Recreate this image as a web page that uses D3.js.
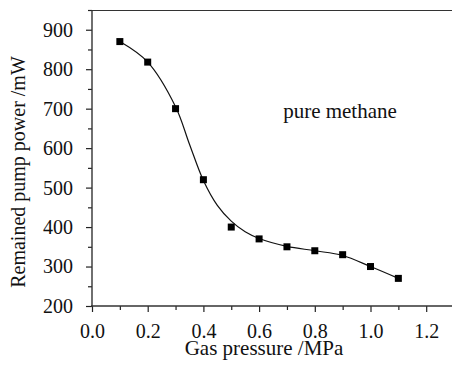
<!DOCTYPE html>
<html>
<head>
<meta charset="utf-8">
<script src="https://cdn.jsdelivr.net/npm/d3@7"></script>
<style>
  body { margin: 0; background: #fff; }
  svg text { font-family: "Liberation Serif", "DejaVu Serif", serif; fill: #111; }
</style>
</head>
<body>
<svg id="chart" width="452" height="370"></svg>
<script>
// measured points
const pressure = [0.1, 0.2, 0.3, 0.4, 0.5, 0.6, 0.7, 0.8, 0.9, 1.0, 1.1];
const power = [870, 818, 700, 520, 400, 370, 350, 340, 330, 300, 270];

// fitted curve
const fitPressure = [0.1, 0.2, 0.3, 0.35, 0.4, 0.45, 0.5, 0.55, 0.6, 0.7, 0.8, 0.9, 1.0, 1.1];
const fitPower = [870, 818, 705, 610, 518, 455, 415, 388, 371, 351, 340, 328, 300, 270];

const xTicks = [0.0, 0.2, 0.4, 0.6, 0.8, 1.0, 1.2];
const yTicks = [200, 300, 400, 500, 600, 700, 800, 900];

const marginLeft = 92, marginTop = 10, plotRight = 452, plotBottom = 306;
const serif = '"Liberation Serif", "DejaVu Serif", serif';

const svg = d3.select("#chart");

const x = d3.scaleLinear()
    .domain([0, 1.2])
    .range([marginLeft, marginLeft + 6 * 55.7]);

const y = d3.scaleLinear()
    .domain([200, 950])
    .range([plotBottom, marginTop]);

// top border
svg.append("line")
    .attr("x1", marginLeft).attr("x2", plotRight)
    .attr("y1", marginTop + 0.5).attr("y2", marginTop + 0.5)
    .attr("stroke", "#333").attr("stroke-width", 1.2);

// minor ticks
const xMinor = d3.range(0.1, 1.3, 0.2);
svg.append("g")
    .attr("transform", `translate(0,${plotBottom})`)
    .call(d3.axisBottom(x).tickValues(xMinor).tickSize(4).tickFormat(""))
    .call(g => g.select(".domain").remove())
    .selectAll("line").attr("stroke", "#222").attr("stroke-width", 1.2);

const yMinor = d3.range(250, 951, 100);
svg.append("g")
    .attr("transform", `translate(${marginLeft},0)`)
    .call(d3.axisLeft(y).tickValues(yMinor).tickSize(4).tickFormat(""))
    .call(g => g.select(".domain").remove())
    .selectAll("line").attr("stroke", "#222").attr("stroke-width", 1.2);

const xAxis = svg.append("g")
    .attr("transform", `translate(0,${plotBottom})`)
    .attr("font-family", serif)
    .attr("font-size", 20)
    .call(d3.axisBottom(x).tickValues(xTicks).tickSize(6).tickPadding(12)
        .tickFormat(d3.format(".1f")));
xAxis.attr("font-family", serif).attr("font-size", 20);
xAxis.select(".domain").remove();
xAxis.selectAll("line").attr("stroke", "#222").attr("stroke-width", 1.2);

svg.append("line")
    .attr("x1", marginLeft - 1).attr("x2", plotRight)
    .attr("y1", plotBottom).attr("y2", plotBottom)
    .attr("stroke", "#333").attr("stroke-width", 1.4);

const yAxis = svg.append("g")
    .attr("transform", `translate(${marginLeft},0)`)
    .call(d3.axisLeft(y).tickValues(yTicks).tickSize(6).tickPadding(13));
yAxis.attr("font-family", serif).attr("font-size", 20);
yAxis.select(".domain").remove();
yAxis.selectAll("line").attr("stroke", "#222").attr("stroke-width", 1.2);

svg.append("line")
    .attr("x1", marginLeft).attr("x2", marginLeft)
    .attr("y1", marginTop).attr("y2", plotBottom + 1)
    .attr("stroke", "#333").attr("stroke-width", 1.4);

// fitted curve
const line = d3.line()
    .x((d, i) => x(fitPressure[i]))
    .y(d => y(d))
    .curve(d3.curveCatmullRom.alpha(0.5));

svg.append("path")
    .datum(fitPower)
    .attr("d", line)
    .attr("fill", "none")
    .attr("stroke", "#111")
    .attr("stroke-width", 1.2);

// markers
svg.selectAll(".pt")
    .data(power)
    .enter().append("rect")
    .attr("class", "pt")
    .attr("x", (d, i) => x(pressure[i]) - 3.5)
    .attr("y", d => y(d) - 3.5)
    .attr("width", 7)
    .attr("height", 7)
    .attr("fill", "#000");

// labels
svg.append("text")
    .attr("x", 340).attr("y", 118)
    .attr("text-anchor", "middle")
    .style("font-size", "21px")
    .text("pure methane");

svg.append("text")
    .attr("x", 264).attr("y", 355)
    .attr("text-anchor", "middle")
    .style("font-size", "21px")
    .text("Gas pressure /MPa");

svg.append("text")
    .attr("transform", "translate(25,172) rotate(-90)")
    .attr("text-anchor", "middle")
    .style("font-size", "20px")
    .text("Remained pump power /mW");
</script>
</body>
</html>
